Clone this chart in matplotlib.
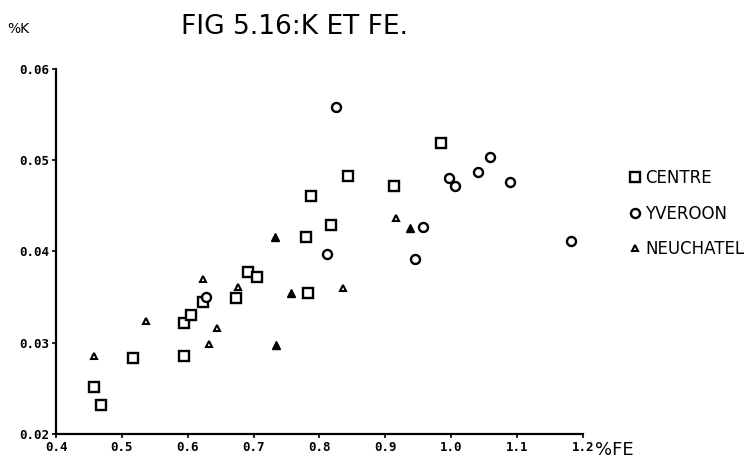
import matplotlib.pyplot as plt
from matplotlib.lines import Line2D

# CENTRE
centre_fe = [0.458, 0.469, 0.517, 0.595, 0.595, 0.605, 0.623, 0.673, 0.691, 0.705,
             0.779, 0.783, 0.787, 0.818, 0.844, 0.913, 0.985]
centre_k = [0.0251, 0.0232, 0.0283, 0.0285, 0.0322, 0.0330, 0.0345, 0.0349, 0.0377, 0.0372,
            0.0416, 0.0354, 0.0461, 0.0429, 0.0483, 0.0472, 0.0519]

# YVEROON
yver_fe = [0.627, 0.812, 0.825, 0.945, 0.957, 0.996, 1.006, 1.040, 1.059, 1.090, 1.182]
yver_k = [0.0350, 0.0397, 0.0558, 0.0392, 0.0427, 0.0480, 0.0472, 0.0487, 0.0504, 0.0476, 0.0412]

# NEUCHATEL (open and filled triangles)
neu_fe = [0.457, 0.536, 0.623, 0.633, 0.644, 0.677, 0.835, 0.916]
neu_k = [0.0285, 0.0324, 0.0370, 0.0299, 0.0316, 0.0361, 0.0360, 0.0437]
neu_fill_fe = [0.733, 0.734, 0.757, 0.937]
neu_fill_k = [0.0416, 0.0297, 0.0355, 0.0426]

xticks = [0.4, 0.5, 0.6, 0.7, 0.8, 0.9, 1.0, 1.1, 1.2]
yticks = [0.02, 0.03, 0.04, 0.05, 0.06]

fig = plt.figure(figsize=(7.56, 4.58), dpi=100)
ax = fig.add_axes([0.0741, 0.0524, 0.697, 0.797])

ax.plot(centre_fe, centre_k, 's', ms=7, mfc='white', mec='black', mew=1.7)
ax.plot(yver_fe, yver_k, 'o', ms=6.5, mfc='white', mec='black', mew=1.7)
ax.plot(neu_fe, neu_k, '^', ms=5, mfc='white', mec='black', mew=1.5)
ax.plot(neu_fill_fe, neu_fill_k, '^', ms=6, mfc='black', mec='black', mew=1)

ax.set_xlim(0.4, 1.2)
ax.set_ylim(0.02, 0.06)
ax.set_xticks(xticks)
ax.set_yticks(yticks)
ax.set_xticklabels(['%.1f' % v for v in xticks], fontsize=9, fontweight='bold', family='DejaVu Sans Mono')
ax.set_yticklabels(['%.2f' % v for v in yticks], fontsize=9, fontweight='bold', family='DejaVu Sans Mono')
ax.tick_params(direction='out', length=3, width=1.2, pad=2)
for s in ['top', 'right']:
    ax.spines[s].set_visible(False)
for s in ['left', 'bottom']:
    ax.spines[s].set_linewidth(1.6)

fig.text(0.239, 0.942, 'FIG 5.16:K ET FE.', fontsize=19, va='center', ha='left')
fig.text(0.01, 0.937, '%K', fontsize=10, va='center')
fig.text(0.787, 0.018, '%FE', fontsize=13, va='center')

handles = [
    Line2D([], [], ls='', marker='s', ms=7, mfc='white', mec='black', mew=1.7),
    Line2D([], [], ls='', marker='o', ms=6.5, mfc='white', mec='black', mew=1.7),
    Line2D([], [], ls='', marker='^', ms=5, mfc='white', mec='black', mew=1.5),
]
fig.legend(handles, ['CENTRE', 'YVEROON', 'NEUCHATEL'], loc='upper left',
           bbox_to_anchor=(0.825, 0.645), frameon=False, handlelength=0.6,
           handletextpad=0.3, labelspacing=1.05, borderaxespad=0,
           prop={'size': 12})

fig.savefig('out.png', dpi=100)
